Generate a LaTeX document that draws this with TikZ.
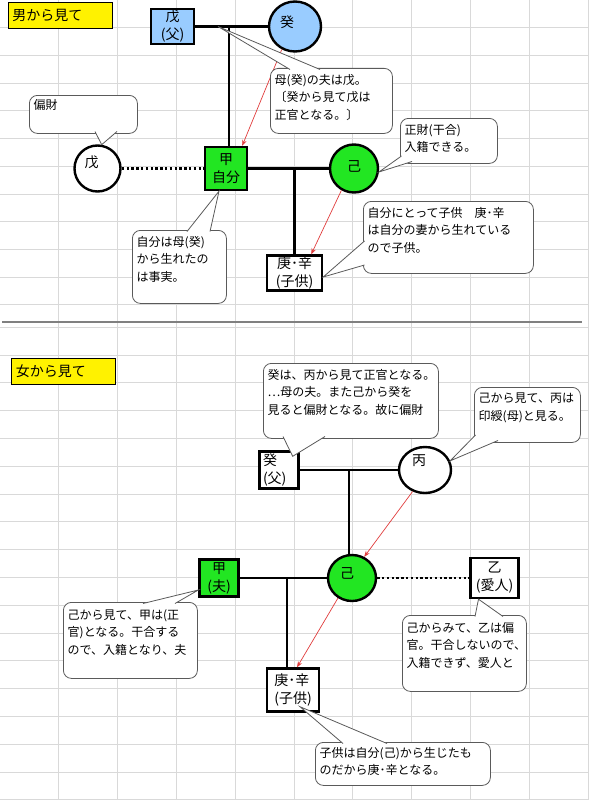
\documentclass[tikz,border=0pt]{standalone}
\usepackage{fontspec}
\setmainfont{Noto Sans CJK JP}
\usepackage{tikz}
\usetikzlibrary{arrows.meta,positioning,calc,shapes.geometric}
\definecolor{skyblue}{HTML}{99CCFF}
\definecolor{selfgreen}{HTML}{22E622}
\definecolor{notegray}{HTML}{5A5A5A}
\definecolor{gridgray}{HTML}{D9D9D9}
\definecolor{birthred}{HTML}{E03C3C}
\definecolor{rulegray}{HTML}{808080}
\tikzset{
    member/.style={draw=black,fill=white,line width=2.4pt,inner sep=1pt,
      font=\fontsize{14}{18}\selectfont,align=center},
    parent/.style={fill=skyblue},
    self/.style={fill=selfgreen},
    inlabel/.style={inner sep=0pt,font=\fontsize{14}{18}\selectfont},
    tie/.style={draw=black,line width=2.4pt},
    affair/.style={draw=black,line width=2.6pt,dash pattern=on 2.4pt off 2.4pt},
    birth/.style={->,draw=birthred,line width=0.7pt},
    notebox/.style={draw=notegray,fill=white,line width=0.8pt,rounded corners=8pt,
      inner sep=0pt,anchor=north west},
    pointer/.style={draw=notegray,fill=white,line width=0.8pt},
    notetext/.style={inner sep=0pt,align=left,font=\fontsize{12}{17.5}\selectfont},
    heading/.style={draw=black,fill=yellow,line width=0.7pt,inner xsep=4.5pt,
      minimum height=26pt,text width=95pt,align=left,anchor=north west,
      font=\fontsize{14}{16}\selectfont},
    gridline/.style={draw=gridgray,line width=0.8pt}
}

\begin{document}
\begin{tikzpicture}[x=1pt,y=-1pt,>={Stealth[length=6pt,width=4.5pt]}]
  \useasboundingbox (0,0) rectangle (589,800);
  % sheet grid
  \foreach \gx in {1,...,10} \draw[gridline] (58.8*\gx,0) -- (58.8*\gx,800);
  \foreach \gy in {1,...,11} \draw[gridline] (0,27.7*\gy) -- (589,27.7*\gy);
  \foreach \gy in {0,...,17} \draw[gridline] (0,327.2+27.8*\gy) -- (589,327.2+27.8*\gy);
  \draw[rulegray,line width=2pt] (2,322) -- (582,322);

  % seen from the man
  \node[heading] (mantitle) at (7.5,2) {男から見て};
  \node[member,parent,minimum width=43pt,minimum height=35pt] (wu) at (172.5,26.5) {戊\\(父)};
  \node[member,parent,ellipse,minimum width=52pt,minimum height=50pt,
    label={[inlabel,name=guiname,xshift=-8pt,yshift=4pt]center:癸}] (gui) at (295,26.5) {};
  \node[member,self,minimum width=42pt,minimum height=43pt] (jia) at (226,168.5) {甲\\自分};
  \node[member,circle,minimum size=46pt,
    label={[inlabel,name=wu2name,xshift=-6pt,yshift=6pt]center:戊}] (wu2) at (97.5,168.5) {};
  \node[member,self,circle,minimum size=48pt,
    label={[inlabel,name=jiname,yshift=2pt]center:己}] (ji) at (354,168.5) {};
  \node[member,minimum width=55pt,minimum height=35pt] (kid) at (294.5,273) {庚･辛\\(子供)};
  \coordinate (m1) at (229,26.5);
  \draw[tie] (wu) -- (gui);
  \draw[tie] (m1) -- (m1 |- jia.north);
  \draw[affair] (wu2) -- (jia);
  \draw[tie] (jia) -- (ji);
  \draw[tie] (kid.north) -- (kid.north |- jia.east);
  \draw[birth] (gui.240) -- ($(jia.north east)+(-6,0)$);
  \draw[birth] (ji.240) -- ($(kid.north east)+(-12,0)$);

  \node[notebox,minimum width=122pt,minimum height=65pt] (n1) at (270,68) {};
  \draw[pointer] ($(n1.north west)+(20,1.5)$) -- ($(m1)+(-11,0)$) -- ($(n1.north west)+(50,1.5)$);
  \node[notetext,below right=6pt and 4.5pt of n1.north west] (t1) {母(癸)の夫は戊。\\〔癸から見て戊は\\正官となる。〕};
  \node[notebox,minimum width=97pt,minimum height=45pt] (n2) at (400,118) {};
  \draw[pointer] ($(n2.north west)+(1.5,38)$) -- (ji.-8) -- ($(n2.north west)+(12,43.5)$);
  \node[notetext,below right=6pt and 4.5pt of n2.north west] (t2) {正財(干合)\\入籍できる。};
  \node[notebox,minimum width=108pt,minimum height=38pt] (n3) at (29,95) {};
  \draw[pointer] ($(n3.north west)+(66,36.5)$) -- (wu2.80) -- ($(n3.north west)+(88,36.5)$);
  \node[notetext,below right=4pt and 4.5pt of n3.north west] (t3) {偏財};
  \node[notebox,minimum width=94pt,minimum height=73pt] (n4) at (132,230) {};
  \draw[pointer] ($(n4.north west)+(55,1.5)$) -- ($(jia.south)+(-7,0)$) -- ($(n4.north west)+(78,1.5)$);
  \node[notetext,below right=6pt and 4.5pt of n4.north west] (t4) {自分は母(癸)\\から生れたの\\は事実。};
  \node[notebox,minimum width=170pt,minimum height=72pt] (n5) at (363,201) {};
  \draw[pointer] ($(n5.north west)+(1.5,40)$) -- ($(kid.east)+(0,4)$) -- ($(n5.north west)+(1.5,64)$);
  \node[notetext,below right=6pt and 4.5pt of n5.north west] (t5) {自分にとって子供　庚･辛\\は自分の妻から生れている\\ので子供。};

  % seen from the woman
  \node[heading] (womantitle) at (11,357.5) {女から見て};
  \node[member,minimum width=39pt,minimum height=37pt,text width=32pt,align=left] (gui2) at (279,470) {癸\\(父)};
  \node[member,ellipse,minimum width=52pt,minimum height=46pt,
    label={[inlabel,name=bingname,xshift=-6pt,yshift=9pt]center:丙}] (bing) at (425,470) {};
  \node[member,self,ellipse,minimum width=48pt,minimum height=46pt,
    label={[inlabel,name=ji2name,xshift=-5pt,yshift=5pt]center:己}] (ji2) at (352,578) {};
  \node[member,self,minimum width=39pt,minimum height=37pt] (jia2) at (219,578) {甲\\(夫)};
  \node[member,minimum width=48pt,minimum height=40pt] (yi) at (494.5,578) {乙\\(愛人)};
  \node[member,minimum width=52pt,minimum height=43pt,align=left] (kid2) at (293,690) {庚･辛\\(子供)};
  \coordinate (m3) at (349,470);
  \coordinate (m4) at (287,578);
  \draw[tie] (gui2) -- (bing);
  \draw[tie] (m3) -- (m3 |- ji2.north);
  \draw[tie] (jia2) -- (ji2);
  \draw[affair] (ji2) -- (yi);
  \draw[tie] (m4) -- (m4 |- kid2.north);
  \draw[birth] (bing.240) -- (ji2.60);
  \draw[birth] (ji2.235) -- ($(kid2.north)+(4,0)$);

  \node[notebox,minimum width=175pt,minimum height=75pt] (n6) at (263,363) {};
  \draw[pointer] ($(n6.north west)+(20,73.5)$) -- ($(gui2.north east)+(-7,6)$) -- ($(n6.north west)+(62,73.5)$);
  \node[notetext,below right=6pt and 4.5pt of n6.north west] (t6) {癸は、丙から見て正官となる。\\…母の夫。また己から癸を\\見ると偏財となる。故に偏財};
  \node[notebox,minimum width=106pt,minimum height=55pt] (n7) at (474,387) {};
  \draw[pointer] ($(n7.north west)+(1.5,48)$) -- (bing.20) -- ($(n7.north west)+(24,53.5)$);
  \node[notetext,below right=6pt and 4.5pt of n7.north west] (t7) {己から見て、丙は\\印綬(母)と見る。};
  \node[notebox,minimum width=134pt,minimum height=76pt] (n8) at (63,602) {};
  \draw[pointer] ($(n8.north west)+(80,1.5)$) -- ($(jia2.west)+(0,12)$) -- ($(n8.north west)+(112,1.5)$);
  \node[notetext,below right=7pt and 4.5pt of n8.north west] (t8) {己から見て、甲は(正\\官)となる。干合する\\ので、入籍となり、夫};
  \node[notebox,minimum width=124pt,minimum height=76pt] (n9) at (402,615) {};
  \draw[pointer] ($(n9.north west)+(73,1.5)$) -- ($(yi.south)+(-16,0)$) -- ($(n9.north west)+(101,1.5)$);
  \node[notetext,below right=7pt and 4.5pt of n9.north west] (t9) {己からみて、乙は偏\\官。干合しないので、\\入籍できず、愛人と};
  \node[notebox,minimum width=175pt,minimum height=43pt] (n10) at (315,742) {};
  \draw[pointer] ($(n10.north west)+(28,1.5)$) -- ($(kid2.south)+(7,-6)$) -- ($(n10.north west)+(72,1.5)$);
  \node[notetext,below right=5pt and 4.5pt of n10.north west] (t10) {子供は自分(己)から生じたも\\のだから庚･辛となる。};
\end{tikzpicture}
\end{document}
